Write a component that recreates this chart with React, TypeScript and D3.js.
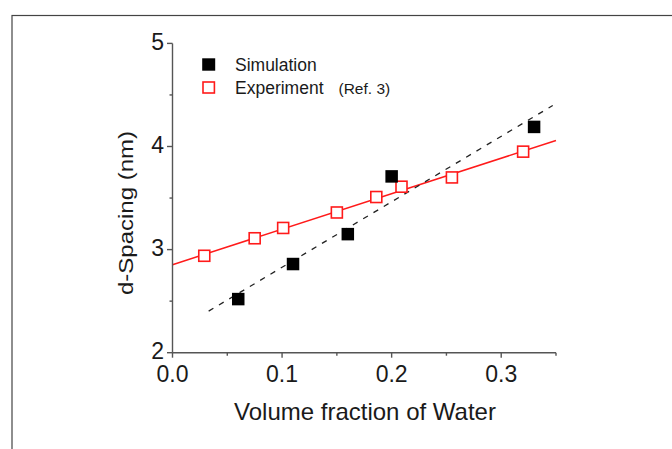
import React from "react";
import * as d3 from "d3";

// ---- data ----
const simX = [0.06, 0.11, 0.16, 0.2, 0.33];
const simY = [2.52, 2.86, 3.15, 3.71, 4.19];
const expX = [0.029, 0.075, 0.101, 0.15, 0.186, 0.209, 0.255, 0.32];
const expY = [2.94, 3.11, 3.21, 3.36, 3.51, 3.61, 3.7, 3.95];
const simFitRange = [0.033, 0.347];
const expFitRange = [0, 0.35];
const xMajorTicks = [0, 0.1, 0.2, 0.3];
const xMinorTicks = [0.05, 0.15, 0.25, 0.35];
const xTickLabels = ["0.0", "0.1", "0.2", "0.3"];
const yMajorTicks = [2, 3, 4, 5];
const yMinorTicks = [2.5, 3.5, 4.5];
const yTickLabels = ["2", "3", "4", "5"];
const legendLabels = ["Simulation", "Experiment"];
const legendNote = "(Ref. 3)";
const xTitle = "Volume fraction of Water";
const yTitle = "d-Spacing (nm)";

function fit(xs: number[], ys: number[]) {
  const mx = d3.mean(xs) as number;
  const my = d3.mean(ys) as number;
  let sxy = 0;
  let sxx = 0;
  xs.forEach((x, i) => {
    sxy += (x - mx) * (ys[i] - my);
    sxx += (x - mx) * (x - mx);
  });
  const b = sxy / sxx;
  const a = my - b * mx;
  return (x: number) => a + b * x;
}

const FONT = "'Liberation Sans', Arial, Helvetica, sans-serif";
const AXIS = "#555";
const TEXT = "#1a1a1a";
const RED = "#ff1a1a";

export default function App() {
  const x = d3.scaleLinear().domain([0, 0.35]).range([172.5, 556]);
  const y = d3.scaleLinear().domain([2, 5]).range([352.7, 43.4]);

  const simFit = fit(simX, simY);
  const expFit = fit(expX, expY);
  const simLine = d3
    .line<number>()
    .x((d) => x(d))
    .y((d) => y(simFit(d)))(simFitRange) as string;
  const expLine = d3
    .line<number>()
    .x((d) => x(d))
    .y((d) => y(expFit(d)))(expFitRange) as string;

  const x0 = x(0);
  const y0 = y(2);
  const sq = 12.5;
  const osq = 11;

  return (
    <svg
      width={672}
      height={449}
      style={{ position: "absolute", left: 0, top: 0, background: "#fff" }}
      fontFamily={FONT}
    >
      {/* outer frame */}
      <rect x={12} y={15.5} width={700} height={480} fill="none" stroke="#444" strokeWidth={1.2} />

      {/* fit lines */}
      <path d={expLine} fill="none" stroke={RED} strokeWidth={1.5} />
      <path d={simLine} fill="none" stroke="#222" strokeWidth={1.3} strokeDasharray="5.5 6.5" />

      {/* axes */}
      <line x1={x0} x2={x(0.35)} y1={y0} y2={y0} stroke={AXIS} strokeWidth={1.4} />
      <line x1={x0} x2={x0} y1={y0} y2={y(5)} stroke={AXIS} strokeWidth={1.4} />
      {xMajorTicks.map((t, i) => (
        <g key={"xm" + i}>
          <line x1={x(t)} x2={x(t)} y1={y0} y2={y0 + 5} stroke={AXIS} strokeWidth={1.4} />
          <text x={x(t)} y={y0 + 29} textAnchor="middle" fontSize={23} fill={TEXT}>
            {xTickLabels[i]}
          </text>
        </g>
      ))}
      {xMinorTicks.map((t, i) => (
        <line key={"xn" + i} x1={x(t)} x2={x(t)} y1={y0} y2={y0 + 3} stroke={AXIS} strokeWidth={1.4} />
      ))}
      {yMajorTicks.map((t, i) => (
        <g key={"ym" + i}>
          <line x1={x0 - 5.5} x2={x0} y1={y(t)} y2={y(t)} stroke={AXIS} strokeWidth={1.4} />
          <text x={164} y={y(t)} dy="0.29em" textAnchor="end" fontSize={23} fill={TEXT}>
            {yTickLabels[i]}
          </text>
        </g>
      ))}
      {yMinorTicks.map((t, i) => (
        <line key={"yn" + i} x1={x0 - 3} x2={x0} y1={y(t)} y2={y(t)} stroke={AXIS} strokeWidth={1.4} />
      ))}

      {/* data points */}
      {expX.map((d, i) => (
        <rect
          key={"e" + i}
          x={x(d) - osq / 2}
          y={y(expY[i]) - osq / 2}
          width={osq}
          height={osq}
          fill="#fff"
          stroke={RED}
          strokeWidth={1.6}
        />
      ))}
      {simX.map((d, i) => (
        <rect key={"s" + i} x={x(d) - sq / 2} y={y(simY[i]) - sq / 2} width={sq} height={sq} fill="#000" />
      ))}

      {/* legend */}
      <rect x={208.7 - 6.5} y={64.5 - 6.2} width={13} height={12.4} fill="#000" />
      <rect x={208.7 - 5.7} y={87.5 - 5.5} width={11.4} height={11} fill="#fff" stroke={RED} strokeWidth={1.6} />
      <text x={235} y={70.5} fontSize={17.5} fill={TEXT}>
        {legendLabels[0]}
      </text>
      <text x={235} y={94} fontSize={17.5} fill={TEXT}>
        {legendLabels[1]}
      </text>
      <text x={338.5} y={94} fontSize={15.5} fill={TEXT}>
        {legendNote}
      </text>

      {/* axis titles */}
      <text x={365} y={419.5} textAnchor="middle" fontSize={24} fill={TEXT}>
        {xTitle}
      </text>
      <text
        transform="translate(133,213) rotate(-90) scale(1,0.86)"
        textAnchor="middle"
        fontSize={24}
        fill={TEXT}
      >
        {yTitle}
      </text>
    </svg>
  );
}
